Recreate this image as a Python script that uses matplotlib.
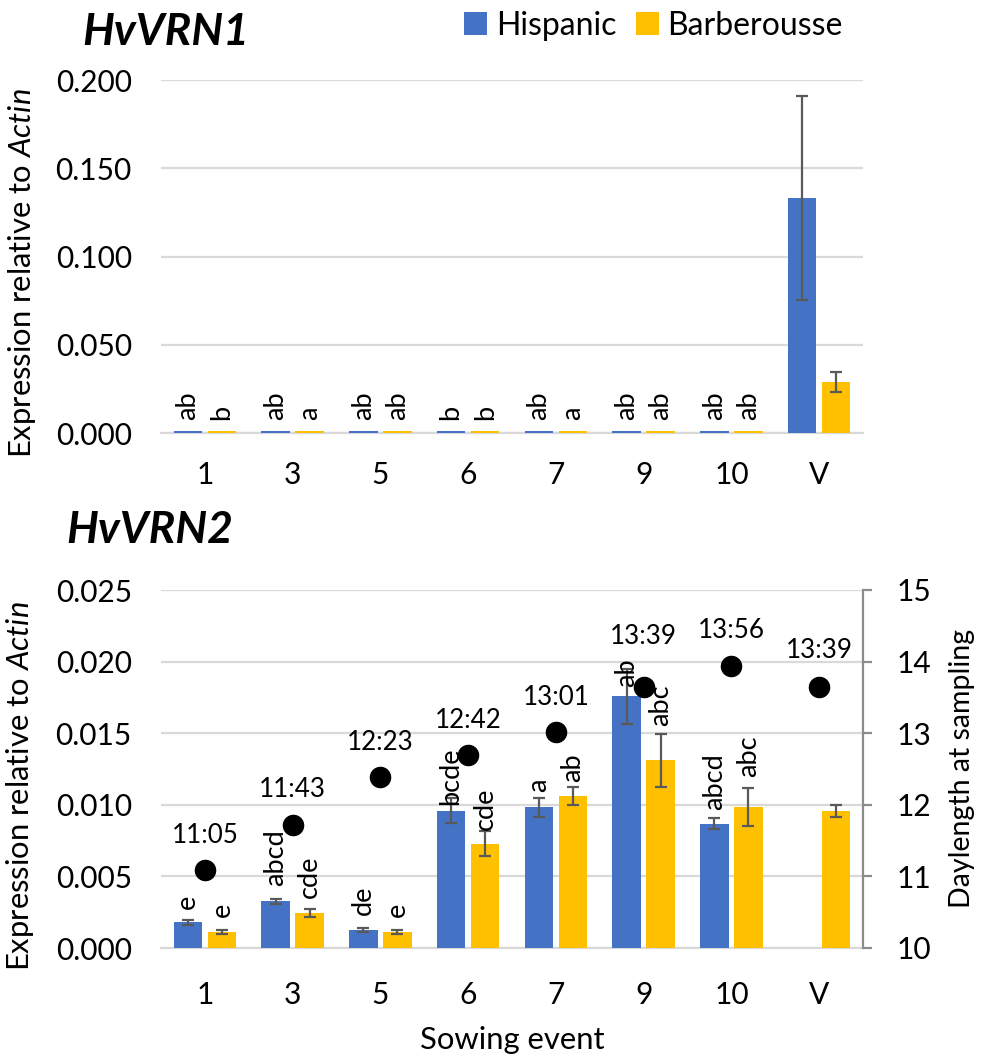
import matplotlib
matplotlib.use('Agg')
import matplotlib.pyplot as plt
import numpy as np
from matplotlib.ticker import FormatStrFormatter, MultipleLocator

plt.rcParams['font.family'] = ['Lato', 'DejaVu Sans']
plt.rcParams['mathtext.fontset'] = 'custom'
plt.rcParams['mathtext.rm'] = 'Lato'
plt.rcParams['mathtext.it'] = 'Lato:italic'

# ---------------- data ----------------
categories = ['1', '3', '5', '6', '7', '9', '10', 'V']
series_names = ['Hispanic', 'Barberousse']

vrn1_hisp = [0.0012, 0.0012, 0.0012, 0.0012, 0.0012, 0.0012, 0.0012, 0.133]
vrn1_hisp_err = [np.nan, np.nan, np.nan, np.nan, np.nan, np.nan, np.nan, 0.0577]
vrn1_barb = [0.0012, 0.0012, 0.0012, 0.0012, 0.0012, 0.0012, 0.0012, 0.0289]
vrn1_barb_err = [np.nan, np.nan, np.nan, np.nan, np.nan, np.nan, np.nan, 0.0054]
vrn1_hisp_lab = ['ab', 'ab', 'ab', 'b', 'ab', 'ab', 'ab', '']
vrn1_barb_lab = ['b', 'a', 'ab', 'b', 'a', 'ab', 'ab', '']

vrn2_hisp = [0.00179, 0.00325, 0.00128, 0.00959, 0.00982, 0.01757, 0.00868, np.nan]
vrn2_hisp_err = [0.00017, 0.00017, 0.00015, 0.00087, 0.00064, 0.0019, 0.00037, np.nan]
vrn2_barb = [0.00112, 0.00244, 0.00112, 0.00728, 0.01064, 0.0131, 0.00982, 0.00959]
vrn2_barb_err = [0.00016, 0.00027, 0.00015, 0.00087, 0.00062, 0.00186, 0.00133, 0.00043]
vrn2_hisp_lab = ['e', 'abcd', 'de', 'bcde', 'a', 'ab', 'abcd', '']
vrn2_barb_lab = ['e', 'cde', 'e', 'cde', 'ab', 'abc', 'abc', '']

daylength_lab = ['11:05', '11:43', '12:23', '12:42', '13:01', '13:39', '13:56', '13:39']
daylength = [int(s.split(':')[0]) + int(s.split(':')[1]) / 60 for s in daylength_lab]

# ---------------- style ----------------
BLUE = '#4472C4'
GOLD = '#FFC000'
GRID = '#d9d9d9'
ERR = '#595959'
AXGRAY = '#8c8c8c'
W, H = 981, 1059
DPI = 100
PX = 72 / DPI  # points per pixel

TICK_FS = 21.5
LAB_FS = 22.3
RLAB_FS = 20.5
BAR_FS = 19.5
DL_FS = 18.7

fig = plt.figure(figsize=(W / DPI, H / DPI), dpi=DPI)

def fx(px):
    return px / W

def fy(py):
    return 1 - py / H

ax1 = fig.add_axes([fx(161), fy(433), (863 - 161) / W, (433 - 80) / H])
ax2 = fig.add_axes([fx(161), fy(948), (863 - 161) / W, (948 - 590) / H])

x = np.arange(len(categories))
bw = 0.325
off = 0.195


def style_axis(ax, ymax, step, xpad):
    ax.set_xlim(-0.5, len(categories) - 0.5)
    ax.set_ylim(0, ymax)
    ax.yaxis.set_major_locator(MultipleLocator(step))
    ax.yaxis.set_major_formatter(FormatStrFormatter('%.3f'))
    ax.set_axisbelow(True)
    ax.yaxis.grid(True, color=GRID, lw=1.6)
    for s in ['top', 'right', 'left']:
        ax.spines[s].set_visible(False)
    ax.spines['bottom'].set_color(GRID)
    ax.spines['bottom'].set_linewidth(1.6)
    ax.spines['bottom'].set_zorder(0.5)
    ax.set_xticks(x)
    ax.set_xticklabels(categories)
    ax.tick_params(axis='y', length=0, pad=21, labelsize=TICK_FS)
    ax.tick_params(axis='x', length=0, pad=xpad, labelsize=TICK_FS)


def draw_bars(ax, hv, he, bv, be, hl, bl, pads_h, pads_b):
    b1 = ax.bar(x - off, hv, bw, color=BLUE, label=series_names[0], zorder=2,
                linewidth=0, antialiased=False)
    b2 = ax.bar(x + off, bv, bw, color=GOLD, label=series_names[1], zorder=2,
                linewidth=0, antialiased=False)
    ax.errorbar(x - off, hv, yerr=he, fmt='none', ecolor=ERR, elinewidth=1.6,
                capsize=4, capthick=1.6, zorder=3)
    ax.errorbar(x + off, bv, yerr=be, fmt='none', ecolor=ERR, elinewidth=1.6,
                capsize=4, capthick=1.6, zorder=3)
    for i in range(len(categories)):
        for xx, v, lab, p in ((x[i] - off, hv[i], hl[i], pads_h[i]),
                              (x[i] + off, bv[i], bl[i], pads_b[i])):
            if lab:
                ax.annotate(lab, (xx, v), xytext=(0, p * PX), textcoords='offset points',
                            rotation=90, ha='center', va='bottom', fontsize=BAR_FS,
                            color='black', zorder=4)
    return b1, b2

# ---------------- top panel ----------------
style_axis(ax1, 0.2, 0.05, 20)
pad_top = [11] * len(categories)
b1, b2 = draw_bars(ax1, vrn1_hisp, vrn1_hisp_err, vrn1_barb, vrn1_barb_err,
                   vrn1_hisp_lab, vrn1_barb_lab, pad_top, pad_top)
ax1.set_ylabel('Expression relative to $\\mathit{Actin}$', fontsize=LAB_FS)
ax1.yaxis.set_label_coords((38 - 161) / 702, 0.452)

# ---------------- bottom panel ----------------
style_axis(ax2, 0.025, 0.005, 24)
pad_h2 = [13, 15, 15, 6, 15, 9, 14, 15]
pad_b2 = [15, 15, 15, 14, 14, 34, 30, 15]
draw_bars(ax2, vrn2_hisp, vrn2_hisp_err, vrn2_barb, vrn2_barb_err,
          vrn2_hisp_lab, vrn2_barb_lab, pad_h2, pad_b2)
ax2.set_ylabel('Expression relative to $\\mathit{Actin}$', fontsize=LAB_FS)
ax2.yaxis.set_label_coords((36 - 161) / 702, 0.451)

ax3 = ax2.twinx()
ax3.set_ylim(10, 15)
ax3.yaxis.set_major_locator(MultipleLocator(1))
ax3.yaxis.set_major_formatter(FormatStrFormatter('%d'))
for s in ['top', 'left', 'bottom']:
    ax3.spines[s].set_visible(False)
ax3.spines['right'].set_color(AXGRAY)
ax3.spines['right'].set_linewidth(1.6)
ax3.tick_params(axis='y', length=9 * PX, width=1.6, color=AXGRAY,
                pad=18, labelsize=TICK_FS, labelcolor='black')
ax3.plot(x, daylength, 'o', color='black', ms=14.5, zorder=5)
dl_pad = [35, 36, 35, 34, 35, 50, 36, 36]
for i, t in enumerate(daylength_lab):
    ax3.annotate(t, (x[i], daylength[i]), xytext=(0, dl_pad[i] * PX),
                 textcoords='offset points', ha='center', va='center',
                 fontsize=DL_FS, color='black')
ax3.set_ylabel('Daylength at sampling', fontsize=RLAB_FS)
ax3.yaxis.set_label_coords((949 - 161) / 702, 0.501)

fig.text(0.522, fy(1040), 'Sowing event', ha='center', va='center', fontsize=LAB_FS)

# ---------------- titles & legend ----------------
fig.text(fx(82), fy(45), 'HvVRN1', fontsize=32, fontweight='bold', fontstyle='italic',
         va='baseline', ha='left')
fig.text(fx(66), fy(543), 'HvVRN2', fontsize=32, fontweight='bold', fontstyle='italic',
         va='baseline', ha='left')

fig.legend(handles=[b1, b2], labels=series_names, loc='upper left',
           bbox_to_anchor=(fx(464), fy(11)), ncol=2, frameon=False, fontsize=23,
           handlelength=0.72, handleheight=0.72, handletextpad=0.28,
           columnspacing=0.6, borderpad=0, borderaxespad=0)

fig.savefig('out.png', dpi=DPI)
